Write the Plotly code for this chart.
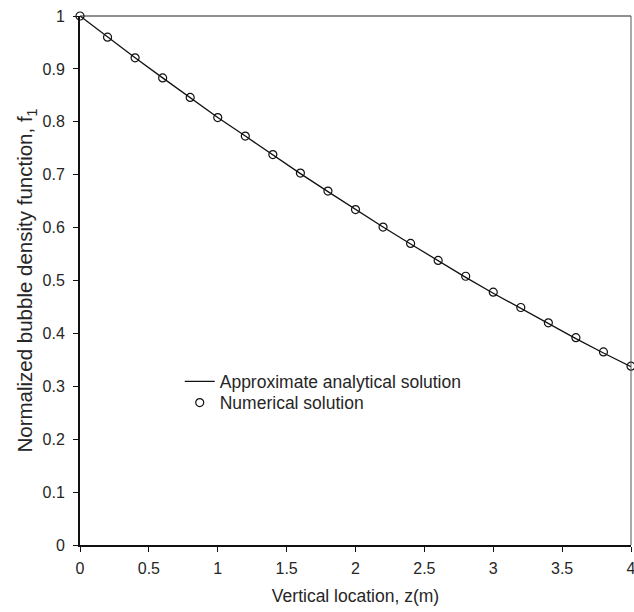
import plotly.graph_objects as go

z_num = [0.0, 0.2, 0.4, 0.6, 0.8, 1.0, 1.2, 1.4, 1.6, 1.8, 2.0, 2.2, 2.4, 2.6, 2.8, 3.0, 3.2, 3.4, 3.6, 3.8, 4.0]
f_num = [1.0, 0.960, 0.921, 0.883, 0.846, 0.808, 0.773, 0.738, 0.703, 0.669, 0.634, 0.601, 0.570, 0.538, 0.508, 0.478, 0.449, 0.420, 0.392, 0.365, 0.338]

z_ana = [0.0, 0.2, 0.4, 0.6, 0.8, 1.0, 1.2, 1.4, 1.6, 1.8, 2.0, 2.2, 2.4, 2.6, 2.8, 3.0, 3.2, 3.4, 3.6, 3.8, 4.0]
f_ana = [1.0, 0.960, 0.921, 0.883, 0.846, 0.808, 0.773, 0.737, 0.702, 0.668, 0.634, 0.601, 0.569, 0.537, 0.506, 0.476, 0.447, 0.418, 0.390, 0.363, 0.337]

x_ticks = [0, 0.5, 1, 1.5, 2, 2.5, 3, 3.5, 4]
x_labels = ["0", "0.5", "1", "1.5", "2", "2.5", "3", "3.5", "4"]
y_ticks = [0, 0.1, 0.2, 0.3, 0.4, 0.5, 0.6, 0.7, 0.8, 0.9, 1]
y_labels = ["0", "0.1", "0.2", "0.3", "0.4", "0.5", "0.6", "0.7", "0.8", "0.9", "1"]

FONT = "Liberation Sans, Arial, sans-serif"
TXT = "#262626"

fig = go.Figure()
fig.add_trace(go.Scatter(
    x=z_ana, y=f_ana, mode="lines", name="Approximate analytical solution",
    line=dict(color="#111111", width=1.3), cliponaxis=False, legend="legend",
))
fig.add_trace(go.Scatter(
    x=z_num, y=f_num, mode="markers", name="Numerical solution",
    marker=dict(symbol="circle-open", size=8, color="#111111", line=dict(width=1.2)),
    cliponaxis=False, legend="legend2",
))

# frame top and right borders
fig.add_shape(type="line", xref="paper", yref="paper", x0=0, x1=1, y0=1, y1=1,
              line=dict(color="#222222", width=1))
fig.add_shape(type="line", xref="paper", yref="paper", x0=1, x1=1, y0=0, y1=1,
              line=dict(color="#555555", width=1))

leg_common = dict(
    xanchor="left", yanchor="middle",
    bgcolor="rgba(0,0,0,0)", font=dict(family=FONT, size=17.5, color=TXT),
    itemwidth=30,
)

fig.update_layout(
    width=634, height=612,
    margin=dict(l=80, r=3, t=16, b=67, autoexpand=False),
    paper_bgcolor="white", plot_bgcolor="white",
    font=dict(family=FONT, size=16, color=TXT),
    showlegend=True,
    legend=dict(x=0.181, y=0.309, **leg_common),
    legend2=dict(x=0.181, y=0.269, **leg_common),
    xaxis=dict(
        range=[0, 4], tickvals=x_ticks, ticktext=x_labels,
        showgrid=False, zeroline=False, automargin=False,
        showline=True, linecolor="#111111", linewidth=2, mirror=False,
        ticks="outside", ticklen=5, tickcolor="#111111", tickwidth=1,
        ticklabeloverflow="allow", ticklabelstandoff=3,
        title=dict(text="Vertical location, z(m)", font=dict(family=FONT, size=17.5, color=TXT), standoff=14),
        tickfont=dict(family=FONT, size=16, color=TXT),
    ),
    yaxis=dict(
        range=[0, 1], tickvals=y_ticks, ticktext=y_labels,
        showgrid=False, zeroline=False, automargin=False,
        showline=True, linecolor="#111111", linewidth=2, mirror=False,
        ticks="outside", ticklen=5, tickcolor="#111111", tickwidth=1,
        ticklabelstandoff=5,
        title=dict(text="Normalized bubble density function, f<sub>1</sub>", font=dict(family=FONT, size=20.5, color=TXT), standoff=4),
        tickfont=dict(family=FONT, size=16, color=TXT),
    ),
)

fig.write_html("out.html")
